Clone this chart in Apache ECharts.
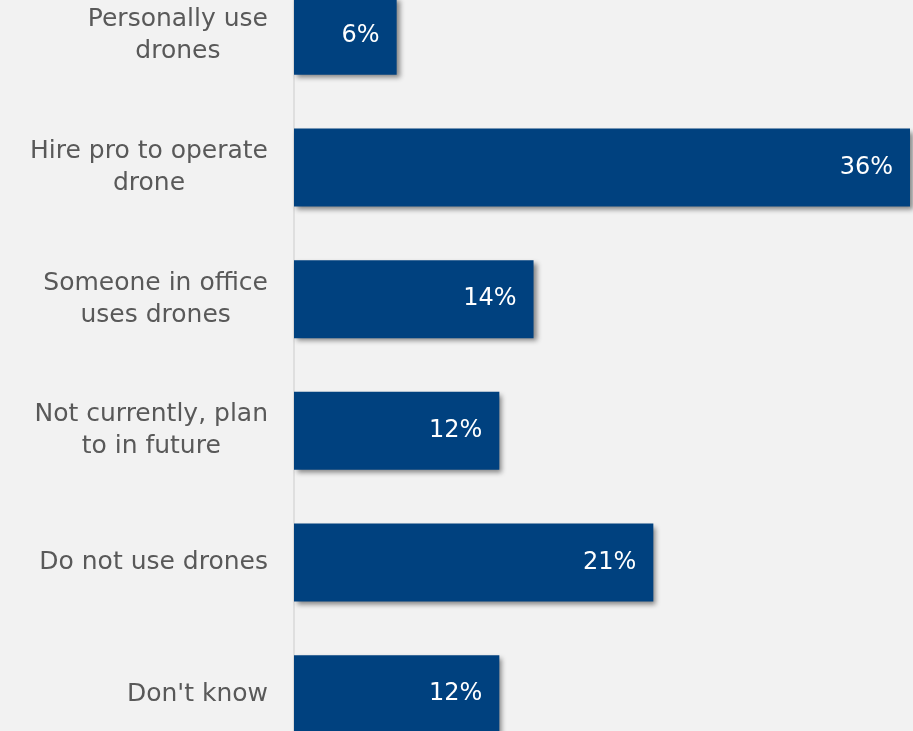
<!DOCTYPE html>
<html>
<head>
<meta charset="utf-8">
<script src="https://cdn.jsdelivr.net/npm/echarts@6/dist/echarts.min.js"></script>
<style>
  html, body { margin: 0; padding: 0; background: #f2f2f2; }
  #chart { width: 913px; height: 731px; }
</style>
</head>
<body>
<div id="chart"></div>
<script>
// Drone usage survey responses (share of respondents, %)
const categories = [
  'Personally use\ndrones',
  'Hire pro to operate\ndrone',
  'Someone in office\nuses drones',
  'Not currently, plan\nto in future',
  'Do not use drones',
  "Don't know"
];
const shares = [6, 36, 14, 12, 21, 12];

const FONT = 'DejaVu Sans';

const chart = echarts.init(document.getElementById('chart'));
chart.setOption({
  backgroundColor: '#f2f2f2',
  animation: false,
  grid: { left: 294, right: 3, top: -30, bottom: -29, outerBoundsMode: 'none', containLabel: false },
  xAxis: {
    type: 'value',
    min: 0,
    max: 36,
    show: false
  },
  yAxis: {
    type: 'category',
    inverse: true,
    data: categories,
    axisLine: { show: true, lineStyle: { color: '#d9d9d9', width: 1.5 } },
    axisTick: { show: false },
    axisLabel: {
      margin: 26,
      align: 'right',
      // each line centred inside the right-aligned label block
      formatter: v => v.split('\n').map(s => '{c|' + s + '}').join('\n'),
      rich: {
        c: {
          align: 'center',
          color: '#595959',
          fontFamily: FONT,
          fontSize: 25,
          lineHeight: 32
        }
      }
    }
  },
  series: [{
    type: 'bar',
    data: shares,
    barWidth: 78,
    itemStyle: {
      color: '#00417f',
      shadowColor: 'rgba(0,0,0,0.45)',
      shadowBlur: 5,
      shadowOffsetX: 3,
      shadowOffsetY: 3
    },
    label: {
      show: true,
      position: 'insideRight',
      distance: 17,
      color: '#ffffff',
      fontFamily: FONT,
      fontSize: 24,
      formatter: p => p.value + '%'
    }
  }]
});
</script>
</body>
</html>
